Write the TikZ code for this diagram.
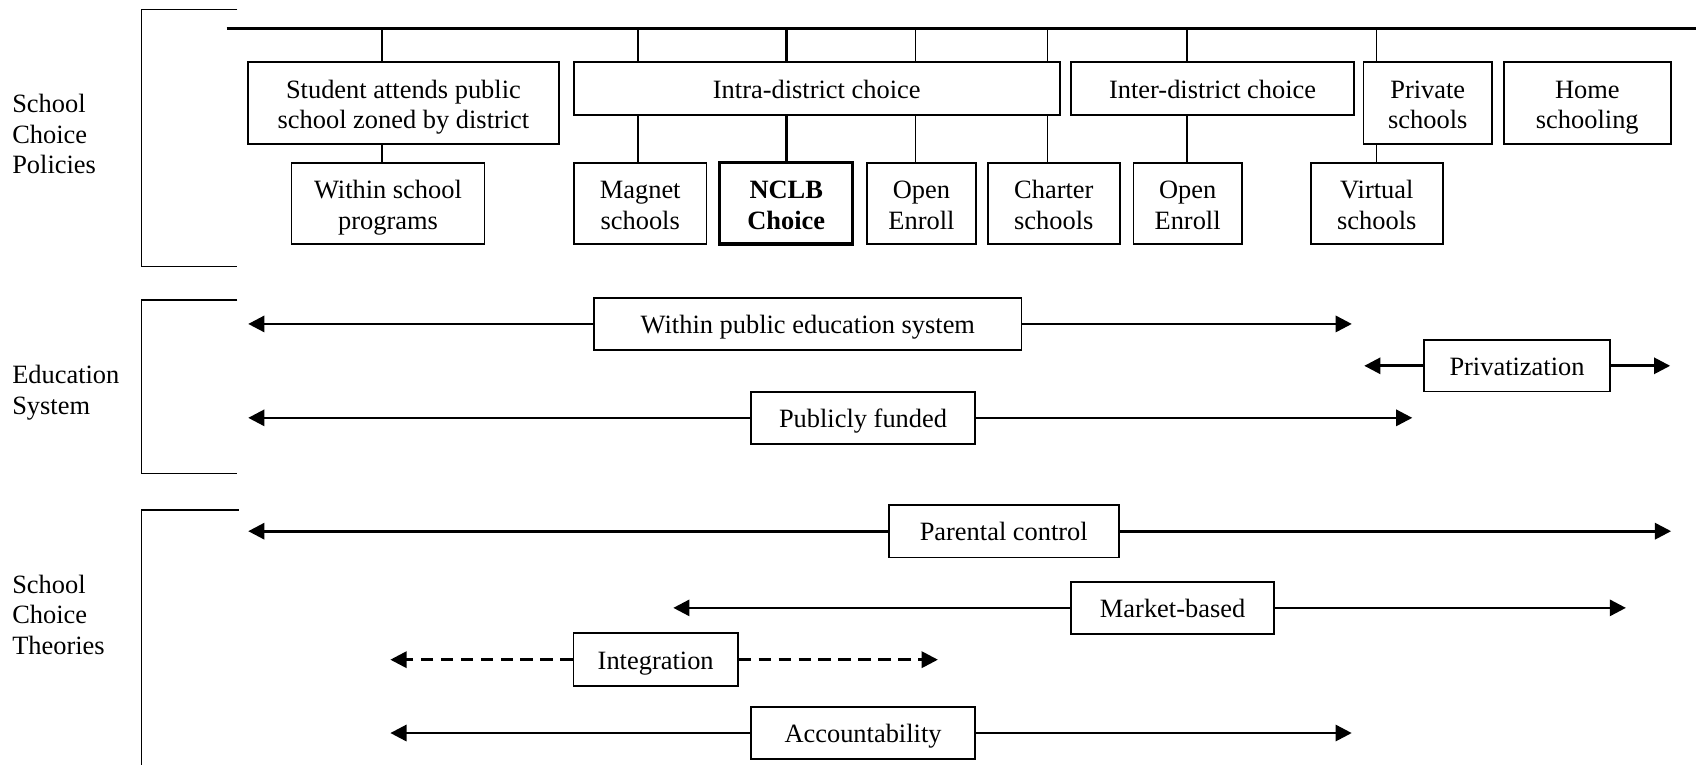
\documentclass[tikz,border=0pt]{standalone}
\usepackage{fontspec}
\setmainfont{Liberation Serif}
\usetikzlibrary{arrows.meta,positioning,calc}

\tikzset{
  box/.style={draw, line width=0.9pt, fill=white, align=center, inner sep=0pt,
    font=\fontsize{13.9pt}{16.2pt}\selectfont, text height=13pt, text depth=3.2pt},
  tbox/.style={box, text height=30.2pt},
  boldbox/.style={tbox, line width=1.7pt, font=\fontsize{13.9pt}{16.2pt}\selectfont\bfseries},
  sz/.style 2 args={minimum width=#1*0.2mm, minimum height=#2*0.2mm},
  link/.style={line width=0.8pt},
  boldlink/.style={line width=1.4pt},
  bus/.style={line width=1.3pt},
  brace/.style={line width=0.8pt},
  span/.style={line width=1.4pt, -{Triangle[length=8.5pt,width=8.5pt]}},
  dspan/.style={span, dash pattern=on 6.5pt off 4pt},
  side/.style={anchor=west, align=left, inner sep=0pt,
    font=\fontsize{13.9pt}{16.2pt}\selectfont}
}

\begin{document}
\begin{tikzpicture}[x=0.2mm, y=0.2mm]
\useasboundingbox (0,0) rectangle (1568,-707);

% Side labels and brackets
\node[side] (lpol) at (11,-124) {School\\Choice\\Policies};
\node[side] (ledu) at (11,-363) {Education\\System};
\node[side] (lthe) at (11,-568.5) {School\\Choice\\Theories};

\coordinate (b1a) at (219.4,-8.6);
\coordinate (b1b) at (219.4,-246.5);
\coordinate (b2a) at (219.4,-277.4);
\coordinate (b2b) at (219.4,-437.6);
\coordinate (b3a) at (220.5,-471.5);
\draw[brace] (b1a) -- ++(-88.4,0) |- (b1b);
\draw[brace] (b2a) -- ++(-88.4,0) |- (b2b);
\draw[brace] (b3a) -- ++(-89.5,0) -- ++(0,-240);

% Policies, top row
\coordinate (busL) at (209.5,-26.2);
\coordinate (busR) at (1568,-26.2);
\draw[bus] (busL) -- (busR);

\node[tbox, sz={287.3}{75.5}] (stud) at (373,-95.4) {Student attends public\\school zoned by district};
\node[box, sz={449.4}{48.7}] (intra) at (755.1,-82) {Intra-district choice};
\node[box, sz={261.4}{48.7}] (inter) at (1121.1,-82) {Inter-district choice};
\node[tbox, sz={119.1}{75.5}] (priv) at (1320,-95.4) {Private\\schools};
\node[tbox, sz={154.7}{75.5}] (home) at (1467.5,-95.4) {Home\\schooling};

% Policies, second row
\node[tbox, sz={178.4}{75.2}] (within) at (358.7,-188) {Within school\\programs};
\node[tbox, sz={122.7}{75.2}] (magnet) at (591.9,-188) {Magnet\\schools};
\node[boldbox, sz={123.1}{75.2}] (nclb) at (726.9,-188) {NCLB\\Choice};
\node[tbox, sz={100.8}{75.2}] (open1) at (851.9,-188) {Open\\Enroll};
\node[tbox, sz={122}{75.2}] (charter) at (974.3,-188) {Charter\\schools};
\node[tbox, sz={100.2}{75.2}] (open2) at (1098,-188) {Open\\Enroll};
\node[tbox, sz={122.3}{75.2}] (virtual) at (1272.9,-188) {Virtual\\schools};

% drop lines
\coordinate (dw) at (353.1,0);
\coordinate (dm) at (589.7,0);
\coordinate (dn) at (727,0);
\coordinate (do1) at (846.2,0);
\coordinate (dc) at (968.6,0);
\coordinate (do2) at (1097.5,0);
\coordinate (dv) at (1272.8,0);

\draw[link] (busL -| dw) -- (stud.north -| dw);
\draw[link] (stud.south -| dw) -- (within.north -| dw);
\draw[link] (busL -| dm) -- (intra.north -| dm);
\draw[link] (intra.south -| dm) -- (magnet.north -| dm);
\draw[boldlink] (busL -| dn) -- (intra.north -| dn);
\draw[boldlink] (intra.south -| dn) -- (nclb.north -| dn);
\draw[link] (busL -| do1) -- (intra.north -| do1);
\draw[link] (intra.south -| do1) -- (open1.north -| do1);
\draw[link] (busL -| dc) -- (intra.north -| dc);
\draw[link] (intra.south -| dc) -- (charter.north -| dc);
\draw[link] (busL -| do2) -- (inter.north -| do2);
\draw[link] (inter.south -| do2) -- (open2.north -| do2);
\draw[link] (busL -| dv) -- (priv.north -| dv);
\draw[link] (priv.south -| dv) -- (virtual.north -| dv);

% Education system
\node[box, sz={395.2}{48}] (wpub) at (746.9,-299.5) {Within public education system};
\node[box, sz={171.5}{47.7}] (prvz) at (1402.5,-338.2) {Privatization};
\node[box, sz={207.4}{48.4}] (pub) at (797.9,-386.3) {Publicly funded};

\coordinate (wpL) at (229.5,-299.5);
\coordinate (wpR) at (1249.8,-299.5);
\coordinate (prL) at (1261.3,-338.2);
\coordinate (prR) at (1544.1,-338.2);
\coordinate (pbL) at (229.5,-386.3);
\coordinate (pbR) at (1305.7,-386.3);
\draw[span] (wpub.west) -- (wpL);
\draw[span] (wpub.east) -- (wpR);
\draw[span] (prvz.west) -- (prL);
\draw[span] (prvz.east) -- (prR);
\draw[span] (pub.west) -- (pbL);
\draw[span] (pub.east) -- (pbR);

% Theories
\node[box, sz={212.6}{48.4}] (par) at (928,-491.1) {Parental control};
\node[box, sz={187.5}{48.4}] (mkt) at (1084.1,-562) {Market-based};
\node[box, sz={151.8}{48.8}] (integ) at (606.2,-609.9) {Integration};
\node[box, sz={207.4}{48.4}] (acc) at (797.9,-677.7) {Accountability};

\coordinate (paL) at (229.5,-491.1);
\coordinate (paR) at (1545,-491.1);
\coordinate (mkL) at (622.5,-562);
\coordinate (mkR) at (1503.2,-562);
\coordinate (inL) at (360.9,-609.9);
\coordinate (inR) at (867.1,-609.9);
\coordinate (acL) at (360.9,-677.7);
\coordinate (acR) at (1249.7,-677.7);
\draw[span] (par.west) -- (paL);
\draw[span] (par.east) -- (paR);
\draw[span] (mkt.west) -- (mkL);
\draw[span] (mkt.east) -- (mkR);
\draw[dspan] (integ.west) -- (inL);
\draw[dspan] (integ.east) -- (inR);
\draw[span] (acc.west) -- (acL);
\draw[span] (acc.east) -- (acR);
\end{tikzpicture}
\end{document}
